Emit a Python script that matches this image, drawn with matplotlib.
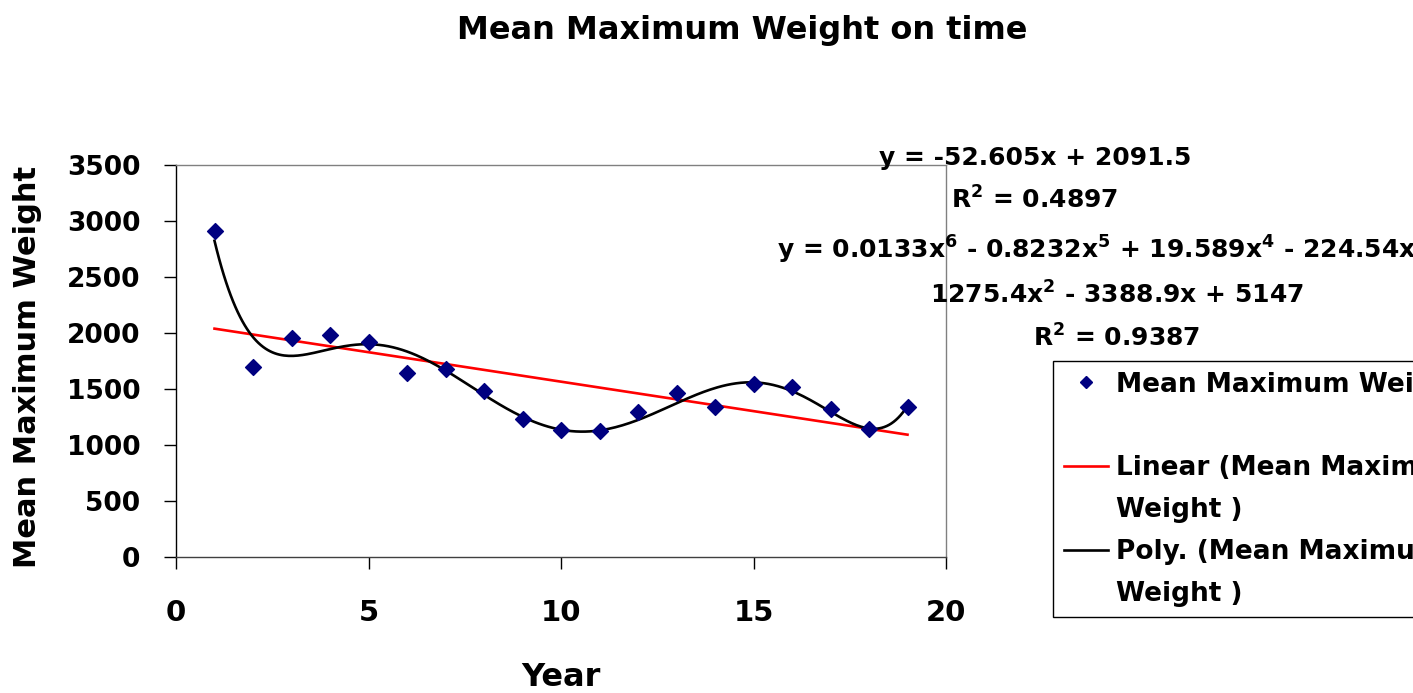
import numpy as np
import matplotlib
matplotlib.use("Agg")
import matplotlib.pyplot as plt
from matplotlib.lines import Line2D

plt.rcParams['font.family'] = ['DejaVu Sans']
plt.rcParams['font.weight'] = 'bold'
plt.rcParams['mathtext.default'] = 'bf'

# data
years = [1, 2, 3, 4, 5, 6, 7, 8, 9, 10, 11, 12, 13, 14, 15, 16, 17, 18, 19]
weights = [2912, 1695, 1954, 1984, 1919, 1647, 1680, 1486, 1236, 1135,
           1126, 1293, 1463, 1341, 1543, 1522, 1320, 1147, 1341]

x_ticks = [0, 5, 10, 15, 20]
y_ticks = [0, 500, 1000, 1500, 2000, 2500, 3000, 3500]

lin_eq = ["y = -52.605x + 2091.5", "R$^2$ = 0.4897"]
poly_eq = ["y = 0.0133x$^6$ - 0.8232x$^5$ + 19.589x$^4$ - 224.54x$^3$ +",
           "1275.4x$^2$ - 3388.9x + 5147",
           "R$^2$ = 0.9387"]

# trendlines (Excel style: linear + 6th order poly)
lin_coef = np.polyfit(years, weights, 1)
poly_coef = np.polyfit(years, weights, 6)
xs = np.linspace(years[0], years[-1], 300)

W, H = 1413, 693
fig = plt.figure(figsize=(W / 100, H / 100), dpi=100)
ax = fig.add_axes([176 / W, 1 - 557 / H, (946 - 176) / W, (557 - 165) / H])

ax.plot(xs, np.polyval(lin_coef, xs), color='#FF0000', lw=1.9, zorder=2)
ax.plot(xs, np.polyval(poly_coef, xs), color='black', lw=1.9, zorder=3)
ax.scatter(years, weights, marker='D', s=65, color='#000080', zorder=4)

ax.set_xlim(0, 20)
ax.set_ylim(0, 3500)
ax.set_xticks(x_ticks)
ax.set_yticks(y_ticks)
ax.tick_params(axis='both', direction='out', length=8.5, width=1, color='black')
ax.tick_params(axis='x', labelsize=21, pad=22)
ax.tick_params(axis='y', labelsize=19, pad=17)
for s in ['top', 'right']:
    ax.spines[s].set_color('#808080')
ax.spines['left'].set_color('black')
ax.spines['bottom'].set_color('#404040')
for s in ax.spines.values():
    s.set_linewidth(1)

ax.set_xlabel('Year', fontsize=23, fontweight='bold', labelpad=25)
fig.text(28 / W, 1 - 367 / H, 'Mean Maximum Weight', rotation=90, fontsize=22,
         fontweight='bold', ha='center', va='center')
fig.text(742 / W, 1 - 31 / H, 'Mean Maximum Weight on time', fontsize=23,
         fontweight='bold', ha='center', va='center')

# trendline equations
for txt, yp in zip(lin_eq, [158, 200]):
    fig.text(1035 / W, 1 - yp / H, txt, fontsize=18, fontweight='bold',
             ha='center', va='center')
for txt, yp in zip(poly_eq, [250, 295, 338]):
    fig.text(1117 / W, 1 - yp / H, txt, fontsize=18, fontweight='bold',
             ha='center', va='center')

# legend, labels wrapped like excel does
blank = Line2D([], [], linestyle='none', marker='')
handles = [Line2D([], [], linestyle='none', marker='D', markersize=6, color='#000080'),
           blank,
           Line2D([], [], color='#FF0000', lw=1.9),
           blank,
           Line2D([], [], color='black', lw=1.9),
           blank]
labels = ['Mean Maximum Weight', ' ', 'Linear (Mean Maximum', 'Weight )',
          'Poly. (Mean Maximum', 'Weight )']
leg = fig.legend(handles, labels, loc='upper left',
                 bbox_to_anchor=(1053 / W, 1 - 361 / H), bbox_transform=fig.transFigure,
                 borderaxespad=0, fontsize=19, frameon=True, fancybox=False,
                 edgecolor='black', framealpha=1, handlelength=1.7,
                 handletextpad=0.3, borderpad=0.4, labelspacing=0.6)
leg.get_frame().set_linewidth(1)

fig.savefig('out.png', dpi=100)
